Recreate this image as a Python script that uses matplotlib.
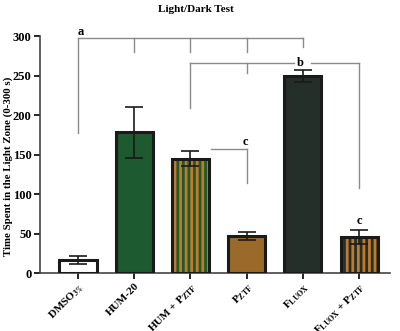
import matplotlib.pyplot as plt
import matplotlib.transforms as mtransforms

plt.rcParams['font.family'] = ['Liberation Serif', 'DejaVu Serif']
plt.rcParams['font.weight'] = 'bold'
plt.rcParams['mathtext.fontset'] = 'stix'
plt.rcParams['hatch.linewidth'] = 2.0

# datos
groups = ['DMSO$_{\\mathrm{3\\%}}$', 'HUM-20', 'HUM + P$_{\\mathrm{ZTF}}$',
          'P$_{\\mathrm{ZTF}}$', 'F$_{\\mathrm{LUOX}}$', 'F$_{\\mathrm{LUOX}}$ + P$_{\\mathrm{ZTF}}$']
means = [16, 178, 145, 47, 250, 46]
errs = [5, 32, 9, 4.5, 7.5, 9]
fills = ['white', '#1d5a2f', '#1d5a2f', '#9a6a2b', '#252f29', '#252f29']
striped = [False, False, True, False, False, True]

fig = plt.figure(figsize=(4.0, 3.31), dpi=100)
ax = fig.add_axes([0.1, 0.175, 0.875, 0.716])

x = list(range(len(groups)))
w = 0.66
for i in x:
    if striped[i]:
        ax.bar(i, means[i], w, color=fills[i], edgecolor='#c07a2a', hatch='|||', linewidth=0, zorder=2)
    else:
        ax.bar(i, means[i], w, color=fills[i], linewidth=0, zorder=2)
    ax.bar(i, means[i], w, fill=False, edgecolor='#1a1a1a', linewidth=2.2, zorder=3)
ax.errorbar(x, means, yerr=errs, fmt='none', ecolor='#1a1a1a', elinewidth=1.2, capsize=6.5, capthick=1.2, zorder=4)

ax.set_xlim(-0.675, 5.55)
ax.set_ylim(0, 300)
ax.set_yticks([0, 50, 100, 150, 200, 250, 300])
ax.set_xticks(x)
ax.set_xticklabels(groups, rotation=45, ha='right', rotation_mode='anchor', fontsize=8)
shift = mtransforms.ScaledTranslation(6 / 100, 4 / 100, fig.dpi_scale_trans)
for lab in ax.get_xticklabels():
    lab.set_transform(lab.get_transform() + shift)
ax.tick_params(axis='y', labelsize=9, width=1.2, length=4, pad=2)
ax.tick_params(axis='x', width=1.2, length=4, pad=2)
for s in ['top', 'right']:
    ax.spines[s].set_visible(False)
for s in ['left', 'bottom']:
    ax.spines[s].set_linewidth(1.2)
    ax.spines[s].set_color('#444444')

ax.set_ylabel('Time Spent in the Light Zone (0-300 s)', fontsize=7.8, fontweight='bold')
ax.yaxis.set_label_coords(-0.077, 0.45)
fig.text(0.49, 0.985, 'Light/Dark Test', ha='center', va='top', fontsize=8, fontweight='bold')

# corchetes de significancia
gc = '#8a8a8a'
lk = dict(color=gc, lw=1.0, clip_on=False, zorder=1)
ax.plot([0, 4], [297, 297], **lk)
ax.plot([0, 0], [297, 177], **lk)
for i in [1, 2, 3]:
    ax.plot([i, i], [297, 280], **lk)
ax.plot([4, 4], [297, 286], **lk)
ax.text(0.0, 298, 'a', ha='left', va='bottom', fontsize=9)

ax.plot([2, 3.85], [265.5, 265.5], **lk)
ax.plot([4.14, 5], [265.5, 265.5], **lk)
ax.plot([2, 2], [265.5, 209], **lk)
ax.plot([3, 3], [265.5, 253], **lk)
ax.plot([5, 5], [265.5, 108], **lk)
ax.text(3.95, 265.5, 'b', ha='center', va='center', fontsize=9)

ax.plot([2.37, 3], [156.5, 156.5], **lk)
ax.plot([3, 3], [156.5, 114], **lk)
ax.text(2.97, 158, 'c', ha='center', va='bottom', fontsize=9)
ax.text(5, 58, 'c', ha='center', va='bottom', fontsize=9)

fig.savefig('out.png', dpi=100)
